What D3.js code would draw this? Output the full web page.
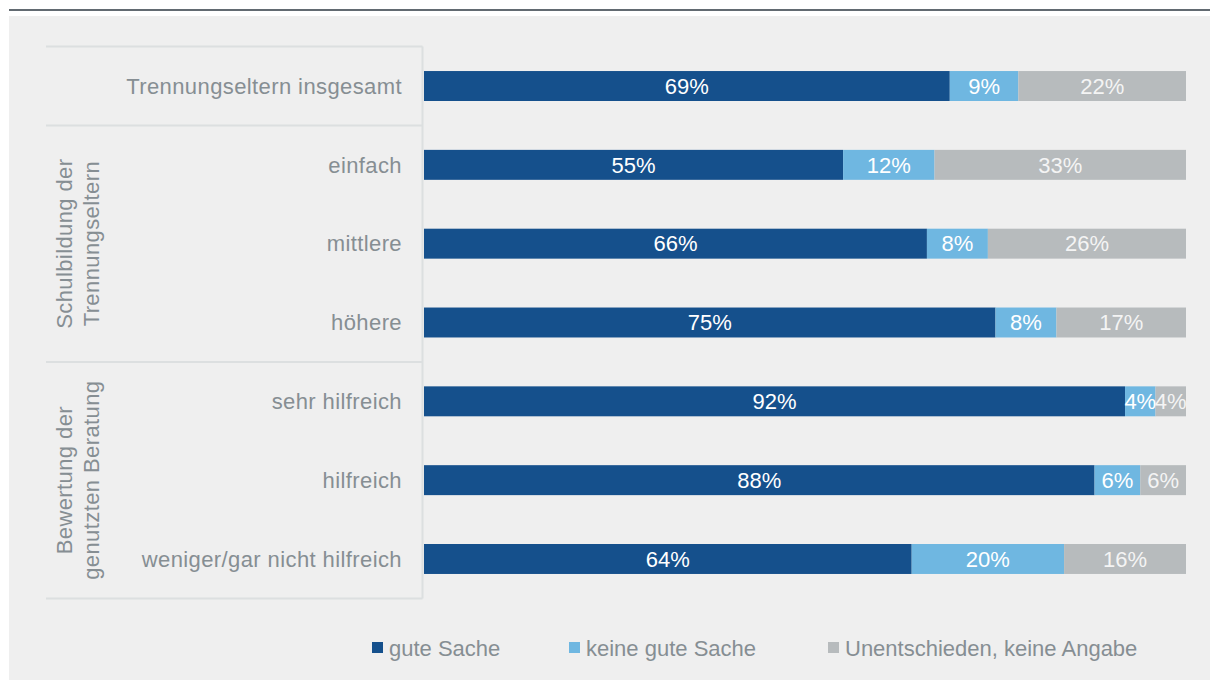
<!DOCTYPE html>
<html>
<head>
<meta charset="utf-8">
<script src="https://cdn.jsdelivr.net/npm/d3@7"></script>
<style>
  html, body { margin: 0; padding: 0; background: #ffffff; }
  svg { display: block; }
  text { font-family: "Liberation Sans", Arial, sans-serif; }
</style>
</head>
<body>
<svg id="chart" width="1210" height="681"></svg>
<script>
// Row labels, top to bottom
const categories = [
  "Trennungseltern insgesamt",
  "einfach",
  "mittlere ",
  "höhere",
  "sehr hilfreich",
  "hilfreich",
  "weniger/gar nicht hilfreich"
];

// Shares in percent per row
const guteSache       = [69, 55, 66, 75, 92, 88, 64];
const keineGuteSache  = [9, 12, 8, 8, 4, 6, 20];
const unentschieden   = [22, 33, 26, 17, 4, 6, 16];

const seriesNames = ["gute Sache", "keine gute Sache", "Unentschieden, keine Angabe"];
const seriesValues = [guteSache, keineGuteSache, unentschieden];

// Row groups shown in the left column (first and last row index, two-line title)
const groups = [
  { from: 1, to: 3, lines: ["Schulbildung der", "Trennungseltern"] },
  { from: 4, to: 6, lines: ["Bewertung der", "genutzten Beratung"] }
];

const colors = ["#15508c", "#6fb7e1", "#b7bbbd"];
const textGray = "#868e93";
const ruleGray = "#dcdfe0";

const svg = d3.select("#chart");

// header rule and panel
svg.append("rect").attr("x", 9).attr("y", 16).attr("width", 1201).attr("height", 664)
  .attr("fill", "#efefef");
svg.append("rect").attr("x", 9).attr("y", 9).attr("width", 1201).attr("height", 2)
  .attr("fill", "#626a71");

const x = d3.scaleLinear().domain([0, 100]).range([424, 1186]);
const y = d3.scaleBand().domain(d3.range(categories.length))
  .range([46.6, 598.4]).paddingInner(0.62).paddingOuter(0.31);
const step = y.step();
const half = (step - y.bandwidth()) / 2;
const rowTop = i => y(i) - half;
const rowBottom = i => y(i) + y.bandwidth() + half;

// left table frame
const tableLeft = 46, tableRight = 422.5;
const frame = svg.append("g").attr("stroke", ruleGray).attr("stroke-width", 2).attr("fill", "none");
const hLines = [rowTop(0), rowBottom(0), rowBottom(3), rowBottom(6)];
hLines.forEach(v => frame.append("line").attr("x1", tableLeft).attr("x2", tableRight)
  .attr("y1", v).attr("y2", v));
frame.append("line").attr("x1", tableRight).attr("x2", tableRight)
  .attr("y1", rowTop(0)).attr("y2", rowBottom(6));

// category labels
svg.append("g").selectAll("text").data(categories).join("text")
  .attr("x", 402)
  .attr("y", (d, i) => y(i) + y.bandwidth() / 2)
  .attr("dy", "0.35em")
  .attr("text-anchor", "end")
  .attr("font-size", 22)
  .attr("letter-spacing", "0.4px")
  .attr("fill", textGray)
  .text(d => d);

// rotated group titles
groups.forEach(g => {
  const cy = (rowTop(g.from) + rowBottom(g.to)) / 2;
  g.lines.forEach((line, k) => {
    svg.append("text")
      .attr("transform", `translate(${72 + k * 27},${cy}) rotate(-90)`)
      .attr("text-anchor", "middle")
      .attr("font-size", 22)
      .attr("letter-spacing", "0.4px")
      .attr("fill", textGray)
      .text(line);
  });
});

// stacked segments
const rows = categories.map((c, i) => {
  let acc = 0;
  return seriesValues.map((vals, s) => {
    const seg = { row: i, s, v: vals[i], x0: acc, x1: acc + vals[i] };
    acc += vals[i];
    return seg;
  });
}).flat();

svg.append("g").selectAll("rect").data(rows).join("rect")
  .attr("x", d => x(d.x0))
  .attr("y", d => y(d.row))
  .attr("width", d => x(d.x1) - x(d.x0))
  .attr("height", y.bandwidth())
  .attr("fill", d => colors[d.s]);

svg.append("g").selectAll("text").data(rows).join("text")
  .attr("x", d => (x(d.x0) + x(d.x1)) / 2)
  .attr("y", d => y(d.row) + y.bandwidth() / 2)
  .attr("dy", "0.35em")
  .attr("text-anchor", "middle")
  .attr("font-size", 22)
  .attr("fill", d => d.s === 2 ? "#f4f4f4" : "#ffffff")
  .text(d => d.v + "%");

// legend
const legendX = [372, 569, 828];
const legend = svg.append("g").selectAll("g").data(seriesNames).join("g")
  .attr("transform", (d, i) => `translate(${legendX[i]},647.5)`);
legend.append("rect").attr("x", 0).attr("y", -5.5).attr("width", 11).attr("height", 11)
  .attr("fill", (d, i) => colors[i]);
legend.append("text").attr("x", 17).attr("y", 8)
  .attr("font-size", 22).attr("fill", textGray)
  .text(d => d);
</script>
</body>
</html>
